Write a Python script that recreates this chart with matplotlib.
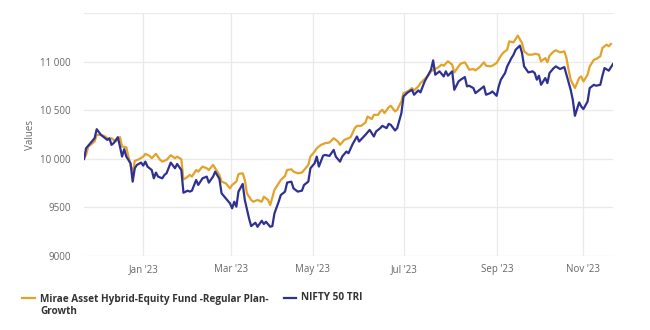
import matplotlib
matplotlib.use("Agg")
import matplotlib.pyplot as plt
from matplotlib.lines import Line2D
from matplotlib.ticker import FixedLocator, FuncFormatter

# trading-day index (ordinal axis) and values
fund_day = [0, 1, 2, 5, 6, 8, 10, 12, 13, 15, 17, 18, 20, 21, 23, 24, 26, 28, 29, 31,
            32, 34, 36, 37, 39, 41, 43, 44, 46, 47, 48, 50, 51, 53, 54, 56, 58, 59, 61, 62,
            64, 65, 67, 69, 70, 72, 73, 75, 76, 77, 79, 80, 82, 84, 85, 87, 88, 90, 92, 93,
            95, 96, 98, 99, 101, 103, 104, 106, 107, 109, 110, 112, 114, 116, 118, 120, 121, 123, 125, 126,
            128, 129, 131, 133, 134, 136, 137, 139, 140, 141, 142, 144, 145, 147, 148, 150, 151, 153, 155, 156,
            158, 159, 161, 163, 164, 166, 167, 169, 170, 172, 174, 175, 177, 178, 180, 181, 182, 184, 185, 187,
            189, 190, 192, 193, 195, 197, 198, 200, 201, 203, 204, 205, 207, 208, 210, 212, 213, 215, 216, 218,
            219, 220, 222, 223, 225, 227, 228, 229, 230, 232, 234, 235, 236, 238, 239, 241, 242, 244, 245, 247,
            248, 249]
fund_val = [10000, 10041, 10127, 10179, 10248, 10248, 10231, 10196, 10213, 10179, 10224, 10127, 10120, 10024, 9852, 9979, 9997, 10024, 10052, 10031,
            10007, 10052, 9990, 9972, 9990, 10038, 10007, 10024, 9997, 9790, 9800, 9835, 9818, 9886, 9869, 9921, 9904, 9886, 9938, 9904,
            9835, 9766, 9749, 9697, 9732, 9766, 9845, 9852, 9783, 9646, 9577, 9559, 9577, 9559, 9611, 9577, 9525, 9680, 9749, 9783,
            9824, 9886, 9893, 9869, 9852, 9859, 9886, 9938, 10024, 10076, 10110, 10145, 10162, 10169, 10213, 10179, 10145, 10196, 10213, 10224,
            10317, 10341, 10341, 10375, 10437, 10410, 10454, 10454, 10489, 10506, 10472, 10533, 10547, 10489, 10506, 10592, 10678, 10695, 10730, 10706,
            10747, 10781, 10823, 10867, 10902, 10929, 10936, 10971, 10960, 11005, 10971, 10891, 10953, 10981, 10995, 10960, 10919, 10926, 10912, 10946,
            10995, 10960, 10953, 10960, 10988, 11063, 11091, 11125, 11211, 11201, 11236, 11270, 11194, 11108, 11074, 11074, 11084, 11074, 11005, 11039,
            10995, 11063, 11108, 11119, 11098, 11108, 11039, 10919, 10816, 10730, 10833, 10850, 10798, 10867, 10953, 11022, 11029, 11057, 11143, 11177,
            11160, 11184]

nifty_day = [0, 1, 3, 5, 6, 8, 9, 11, 12, 13, 14, 16, 17, 18, 19, 20, 22, 23, 24, 25,
             27, 28, 29, 30, 32, 33, 34, 35, 37, 38, 39, 41, 43, 44, 46, 47, 49, 50, 51, 53,
             54, 56, 58, 59, 61, 62, 64, 65, 67, 69, 70, 71, 72, 73, 75, 76, 78, 79, 81, 82,
             84, 85, 86, 88, 89, 90, 92, 93, 95, 96, 98, 99, 101, 103, 104, 106, 107, 109, 110, 111,
             113, 114, 116, 118, 119, 121, 122, 124, 125, 127, 129, 130, 132, 133, 135, 137, 138, 140, 141, 143,
             144, 145, 147, 148, 150, 151, 153, 155, 156, 158, 159, 161, 163, 164, 165, 166, 168, 170, 171, 172,
             174, 175, 177, 178, 180, 181, 182, 184, 185, 187, 189, 190, 192, 193, 195, 196, 197, 199, 200, 202,
             203, 204, 206, 207, 208, 210, 212, 213, 214, 215, 216, 218, 219, 220, 222, 223, 225, 227, 228, 230,
             231, 232, 234, 235, 236, 238, 239, 241, 242, 244, 245, 246, 248, 250]
nifty_val = [10000, 10110, 10162, 10213, 10306, 10248, 10231, 10196, 10213, 10145, 10162, 10224, 10127, 10024, 10100, 10024, 9955, 9766, 9904, 9938,
             9962, 9931, 9972, 9921, 9886, 9800, 9859, 9818, 9800, 9835, 9852, 9962, 9904, 9948, 9886, 9652, 9673, 9663, 9673, 9783,
             9732, 9800, 9818, 9756, 9818, 9869, 9794, 9646, 9594, 9542, 9491, 9559, 9508, 9663, 9742, 9577, 9387, 9308, 9343, 9301,
             9363, 9329, 9353, 9301, 9308, 9439, 9559, 9628, 9663, 9756, 9766, 9697, 9663, 9673, 9732, 9766, 9904, 9955, 10024, 9921,
             10034, 10041, 10031, 10093, 10024, 9972, 10024, 10076, 10059, 10155, 10231, 10179, 10224, 10248, 10299, 10231, 10282, 10317, 10341, 10317,
             10361, 10351, 10293, 10317, 10472, 10644, 10685, 10712, 10661, 10706, 10685, 10798, 10878, 10919, 11015, 10867, 10902, 10850, 10902, 10857,
             10902, 10712, 10798, 10816, 10843, 10747, 10754, 10730, 10678, 10712, 10747, 10661, 10678, 10695, 10650, 10747, 10816, 10885, 10953, 11039,
             11074, 11125, 11167, 11091, 10953, 10891, 10902, 10885, 10816, 10857, 10764, 10833, 10781, 10885, 10936, 10953, 10926, 10946, 10867, 10712,
             10609, 10444, 10582, 10540, 10513, 10592, 10730, 10764, 10754, 10764, 10857, 10936, 10909, 10978]

month_pos = [28.1, 69.7, 108.1, 151.4, 195.4, 235.9]
month_labels = ["Jan '23", "Mar '23", "May '23", "Jul '23", "Sep '23", "Nov '23"]
y_ticks = [9000, 9500, 10000, 10500, 11000, 11500]

fund_name = "Mirae Asset Hybrid-Equity Fund -Regular Plan-\nGrowth"
index_name = "NIFTY 50 TRI"
fund_color = "#E3A229"
index_color = "#2E3192"

plt.rcParams['font.family'] = ['Open Sans', 'DejaVu Sans']

fig = plt.figure(figsize=(6.5, 3.3), dpi=100)
ax = fig.add_axes([84 / 650, 1 - 256 / 330, (613 - 84) / 650, (256 - 13.3) / 330])

ax.plot(fund_day, fund_val, color=fund_color, lw=1.6, zorder=3)
ax.plot(nifty_day, nifty_val, color=index_color, lw=1.6, zorder=4)

ax.set_xlim(0, 250)
ax.set_ylim(9000, 11500)
ax.xaxis.set_major_locator(FixedLocator(month_pos))
ax.set_xticklabels(month_labels)
ax.yaxis.set_major_locator(FixedLocator(y_ticks))


def yfmt(v, pos):
    if v >= 11500:
        return ""
    if v >= 10000:
        return f"{int(v):,}".replace(",", " ")
    return f"{int(v)}"


ax.yaxis.set_major_formatter(FuncFormatter(yfmt))
ax.grid(True, color="#e9e9e9", lw=0.9)
ax.set_axisbelow(True)
for s in ax.spines.values():
    s.set_visible(False)
ax.tick_params(axis="both", length=0, labelsize=7, labelcolor="#666666")
ax.tick_params(axis="y", pad=9.5)
ax.tick_params(axis="x", pad=6)
ax.set_ylabel("Values", fontsize=7, color="#666666", labelpad=3)

# legend
fy = 1 - 298 / 330
fig.add_artist(Line2D([22 / 650, 35 / 650], [fy, fy], color=fund_color, lw=1.6))
fig.text(40 / 650, fy + 0.013, fund_name, fontsize=7.2, fontweight="bold", color="#333333",
         va="top", ha="left", linespacing=1.15)
fig.add_artist(Line2D([284 / 650, 296 / 650], [fy, fy], color=index_color, lw=1.6))
fig.text(301 / 650, fy, index_name, fontsize=7.2, fontweight="bold", color="#333333",
         va="center", ha="left")

fig.savefig("out.png", dpi=100)
